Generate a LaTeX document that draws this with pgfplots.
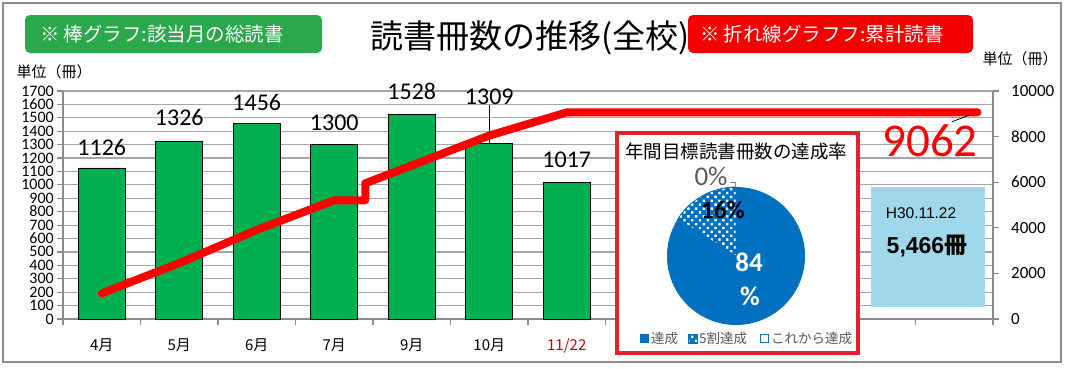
\documentclass[border=0pt]{standalone}
\usepackage{pgfplots}
\pgfplotsset{compat=1.18}
\usepackage{fontspec}
\setmainfont{Noto Sans CJK JP}
\newfontfamily\calfont{Carlito}
\newfontfamily\arifont{Liberation Sans}
\usetikzlibrary{patterns,patterns.meta}
\tikzdeclarepattern{name=wdots, type=uncolored, bounding box={(-3pt,-3pt) and (3pt,3pt)}, tile size={(5.5pt,5.5pt)}, tile transformation={rotate=45}, code={\fill (0pt,0pt) circle (1.7pt);}}
\definecolor{barg}{HTML}{00B050}
\definecolor{boxg}{HTML}{2AA84C}
\definecolor{boxr}{HTML}{F50000}
\definecolor{piered}{HTML}{E2222C}
\definecolor{pieblue}{HTML}{0070C0}
\definecolor{lightb}{HTML}{9ED8EA}
\definecolor{axgray}{HTML}{8C8C8C}
\definecolor{gridgray}{HTML}{A6A6A6}
\definecolor{txtgray}{HTML}{595959}
\begin{document}
\begin{tikzpicture}[x=1pt,y=1pt]
\path[use as bounding box] (0,0) rectangle (1065,368);
\draw[axgray, line width=1.3pt] (3,6) rectangle (1061,365);
% main (left) axis with bars
\begin{axis}[
 at={(63pt,49pt)}, anchor=south west, width=930pt, height=228pt, scale only axis,
 xmin=-0.5, xmax=11.5, ymin=0, ymax=1700,
 axis x line*=bottom, axis y line*=left,
 axis line style={axgray, line width=1.3pt, -},
 ytick={0,100,...,1700}, ymajorgrids, grid style={gridgray, line width=1.2pt},
 xtick={0,...,6},
 xticklabels={4月,5月,6月,7月,9月,10月,\textcolor{red!80!black}{11/22}},
 major x tick style={draw=none},
 minor xtick={-0.5,0.5,...,11.5},
 tick align=outside, major tick length=6pt, minor tick length=6pt,
 tick style={axgray, line width=1.2pt},
 yticklabel style={font=\calfont\fontsize{16}{16}\selectfont, inner sep=0pt, text height=10pt, text depth=0pt, xshift=-3pt},
 xticklabel style={font=\fontsize{15}{15}\selectfont, yshift=-10pt},
 /pgf/number format/assume math mode=true,
 /pgf/number format/1000 sep={},
 ybar, bar width=47pt,
 clip=false,
]
\addplot[fill=barg, draw=black, line width=0.9pt] coordinates {(0,1126)(1,1326)(2,1456)(3,1300)(4,1528)(5,1309)(6,1017)};
\begin{scope}[font=\calfont\fontsize{24}{24}\selectfont]
\node at (axis cs:0,1282) {1126};
\node at (axis cs:1,1499) {1326};
\node at (axis cs:2,1618) {1456};
\node at (axis cs:3,1461) {1300};
\node at (axis cs:4,1700) {1528};
\node at (axis cs:5,1655) {1309};
\node at (axis cs:6,1185) {1017};
\end{scope}
\draw[black, line width=0.7pt] (axis cs:5,1595) -- (axis cs:5,1309);
\end{axis}
% right axis with cumulative line
\begin{axis}[
 at={(63pt,49pt)}, anchor=south west, width=930pt, height=228pt, scale only axis,
 xmin=-0.5, xmax=11.5, ymin=0, ymax=10000,
 axis y line*=right, axis x line=none,
 axis line style={axgray, line width=1.3pt, -},
 ytick={0,2000,...,10000}, scaled y ticks=false,
 tick align=outside, major tick length=6pt,
 tick style={axgray, line width=1.2pt},
 yticklabel style={font=\calfont\fontsize{17}{17}\selectfont, inner sep=0pt, xshift=12pt},
 /pgf/number format/assume math mode=true,
 /pgf/number format/1000 sep={},
 clip=false,
]
\addplot[red, line width=8pt, line cap=round, line join=round] coordinates {(0,1126)(1,2452)(2,3908)(3,5208)(3.4,5208)(3.4,5950)(4,6736)(5,8045)(6,9062)(11.3,9062)};
\draw[black, line width=0.8pt] (axis cs:10.97,8650) -- (axis cs:11.2,8950);
\end{axis}
\node[red, font=\calfont\fontsize{47}{47}\selectfont] at (930,227) {9062};
% light blue box
\fill[lightb] (871,61) rectangle (985,181);
\node[font=\arifont\fontsize{15.5}{15.5}\selectfont] at (921,155) {H30.11.22};
\node[font=\fontsize{23}{23}\selectfont\bfseries] at (927,122) {{\arifont\bfseries 5,466}冊};
% pie box
\draw[piered, line width=4pt, fill=white] (617,15) rectangle (858,235);
\node[font=\fontsize{18.5}{18.5}\selectfont] at (736,217) {年間目標読書冊数の達成率};
\begin{axis}[at={(736pt,112pt)}, anchor=center, width=138pt, height=138pt, scale only axis,
 xmin=-1,xmax=1,ymin=-1,ymax=1, hide axis, clip=false]
\fill[pieblue] (axis cs:0,0) -- ++(90:69pt) arc[start angle=90, end angle={90-0.84*360}, radius=69pt] -- cycle;
\fill[pieblue] (axis cs:0,0) -- ++({90-0.84*360}:69pt) arc[start angle={90-0.84*360}, end angle=-270, radius=69pt] -- cycle;
\fill[pattern=wdots, pattern color=white] (axis cs:0,0) -- ++({90-0.84*360}:69pt) arc[start angle={90-0.84*360}, end angle=-270, radius=69pt] -- cycle;
\draw[pieblue, line width=0.8pt] (axis cs:0,0) -- ++({90-0.84*360}:69pt) arc[start angle={90-0.84*360}, end angle=-270, radius=69pt] -- cycle;
\end{axis}
\draw[axgray, line width=0.6pt] (730,186) -- (735,186) -- (735,181);
\node[txtgray, font=\calfont\fontsize{27}{27}\selectfont] at (711,192) {0\%};
\node[black, font=\calfont\fontsize{25}{25}\selectfont\bfseries] at (723,158) {16\%};
\node[white, font=\calfont\fontsize{27}{27}\selectfont\bfseries] at (749,106) {84};
\node[white, font=\calfont\fontsize{27}{27}\selectfont\bfseries] at (750,72) {\%};
% pie legend
\fill[pieblue] (640,25) rectangle (649,34);
\node[txtgray, anchor=west, inner sep=0pt, font=\fontsize{13.5}{13.5}\selectfont] at (651,30) {達成};
\fill[pieblue] (688,25) rectangle (697,34);
\fill[pattern=wdots, pattern color=white] (688,25) rectangle (697,34);
\draw[pieblue, line width=0.6pt] (688,25) rectangle (697,34);
\node[txtgray, anchor=west, inner sep=0pt, font=\fontsize{13.5}{13.5}\selectfont] at (699,30) {5割達成};
\draw[pieblue, line width=0.6pt] (760.5,25.5) rectangle (768.5,33.5);
\node[txtgray, anchor=west, inner sep=0pt, font=\fontsize{13.5}{13.5}\selectfont] at (771,30) {これから達成};
% header boxes and title
\fill[boxg, rounded corners=5pt] (25,315) rectangle (322,353);
\node[white, font=\fontsize{19.5}{19.5}\selectfont] at (162,334) {※\ 棒グラフ:該当月の総読書};
\fill[boxr, rounded corners=5pt] (688,315) rectangle (973,353);
\node[white, font=\fontsize{19.5}{19.5}\selectfont] at (822,334) {※\ 折れ線グラフフ:累計読書};
\node[black, font=\fontsize{33}{33}\selectfont] at (530,330) {読書冊数の推移(全校)};
\node[black, font=\fontsize{15}{15}\selectfont] at (54,296) {単位（冊）};
\node[black, font=\fontsize{15}{15}\selectfont] at (1020,309) {単位（冊）};
\end{tikzpicture}
\end{document}
